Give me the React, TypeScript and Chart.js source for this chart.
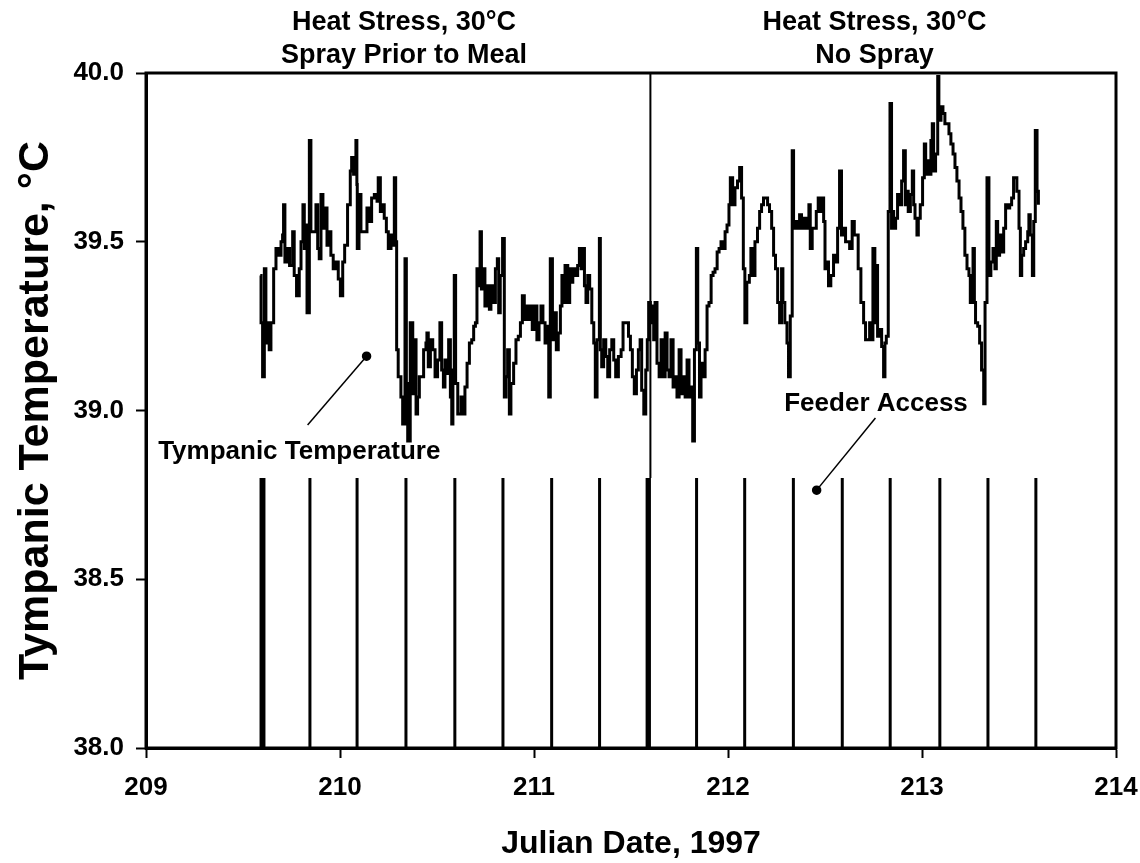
import React, { useEffect, useRef } from "react";
import { Chart, registerables } from "chart.js";

Chart.register(...registerables);

// Tympanic temperature trace (Julian day, °C)
const tympanicDay = [
  209.589, 209.593, 209.601, 209.610, 209.618, 209.630, 209.635, 209.644, 209.658, 209.670,
  209.682, 209.696, 209.704, 209.709, 209.716, 209.730, 209.740, 209.756, 209.764, 209.776,
  209.790, 209.799, 209.809, 209.816, 209.823, 209.830, 209.842, 209.850, 209.864, 209.876,
  209.885, 209.893, 209.902, 209.912, 209.922, 209.933, 209.945, 209.953, 209.965, 209.979,
  209.991, 210.002, 210.014, 210.024, 210.039, 210.053, 210.060, 210.070, 210.082, 210.087,
  210.089, 210.098, 210.108, 210.125, 210.139, 210.151, 210.163, 210.177, 210.191, 210.197,
  210.208, 210.220, 210.228, 210.239, 210.249, 210.263, 210.273, 210.280, 210.287, 210.292,
  210.300, 210.314, 210.323, 210.335, 210.342, 210.349, 210.362,
  210.366, 210.375, 210.383, 210.392, 210.400, 210.409, 210.421, 210.431, 210.443, 210.448,
  210.455, 210.466, 210.478, 210.490, 210.503, 210.515, 210.524, 210.533, 210.541, 210.552,
  210.560, 210.569, 210.576, 210.582, 210.589, 210.596, 210.607, 210.624, 210.637, 210.644,
  210.655, 210.667, 210.679, 210.689, 210.698, 210.706, 210.713, 210.722, 210.729, 210.739,
  210.747, 210.758, 210.770, 210.778, 210.792, 210.801, 210.811, 210.818, 210.826, 210.838,
  210.847, 210.856, 210.864, 210.873, 210.881, 210.895, 210.907, 210.919, 210.930, 210.940,
  210.950, 210.960, 210.971, 210.981, 210.991, 211.002, 211.015, 211.026, 211.036, 211.046,
  211.057, 211.070, 211.076, 211.084, 211.095, 211.105, 211.115, 211.125, 211.136, 211.144,
  211.153, 211.160, 211.174, 211.184, 211.194,
  211.200, 211.212, 211.225, 211.234, 211.243, 211.251, 211.260, 211.268, 211.277, 211.287,
  211.298, 211.308, 211.316, 211.325, 211.337, 211.342, 211.349, 211.359, 211.370, 211.380,
  211.390, 211.401, 211.411, 211.421, 211.435, 211.449, 211.459, 211.473, 211.487, 211.497,
  211.507, 211.517, 211.528, 211.538, 211.547, 211.555, 211.566, 211.576, 211.584, 211.591,
  211.600, 211.607, 211.617, 211.624, 211.634, 211.645, 211.655, 211.665, 211.676, 211.686,
  211.696, 211.706, 211.717, 211.727, 211.737, 211.748, 211.758, 211.768, 211.779, 211.789,
  211.799, 211.810, 211.818, 211.827, 211.837, 211.844, 211.853, 211.861, 211.871, 211.882,
  211.892, 211.902, 211.913, 211.923, 211.933, 211.944, 211.954, 211.964, 211.974, 211.985,
  211.995, 212.005, 212.012,
  212.015, 212.024, 212.036, 212.049, 212.060, 212.070, 212.079, 212.087, 212.097, 212.110,
  212.118, 212.128, 212.139, 212.152, 212.163, 212.173, 212.183, 212.194, 212.204, 212.214,
  212.225, 212.235, 212.245, 212.256, 212.266, 212.276, 212.283, 212.293, 212.304, 212.312,
  212.321, 212.331, 212.338, 212.350, 212.359, 212.369, 212.379, 212.393, 212.403, 212.417,
  212.424, 212.434, 212.445, 212.455, 212.465, 212.475, 212.482, 212.493, 212.500, 212.510,
  212.518, 212.530, 212.544, 212.555, 212.565, 212.575, 212.585, 212.596, 212.606, 212.616,
  212.627, 212.640, 212.651, 212.661, 212.671, 212.685, 212.699, 212.709, 212.719, 212.730,
  212.737, 212.747, 212.757, 212.764, 212.771, 212.781, 212.792, 212.802, 212.809, 212.816,
  212.826, 212.835, 212.843,
  212.845, 212.854, 212.864, 212.874, 212.885, 212.895, 212.905, 212.914, 212.922, 212.929,
  212.940, 212.950, 212.957, 212.964, 212.974, 212.981, 212.991, 213.003, 213.012, 213.019,
  213.026, 213.036, 213.046, 213.053, 213.060, 213.070, 213.081, 213.087, 213.098, 213.108,
  213.118, 213.129, 213.139, 213.149, 213.160, 213.170, 213.180, 213.191, 213.201, 213.211,
  213.221, 213.232, 213.242, 213.249, 213.256, 213.263, 213.270, 213.276, 213.287, 213.297,
  213.307, 213.318, 213.325, 213.335, 213.345, 213.355, 213.366, 213.376, 213.383, 213.390,
  213.400, 213.410, 213.421, 213.431, 213.441, 213.452, 213.462, 213.472, 213.483, 213.489,
  213.500, 213.507, 213.514, 213.524, 213.534, 213.545, 213.551, 213.558, 213.569, 213.576,
  213.584, 213.593, 213.600,
];

const tympanicTemp = [
  39.40, 39.26, 39.10, 39.42, 39.20, 39.26, 39.18, 39.26, 39.42, 39.48,
  39.46, 39.50, 39.52, 39.61, 39.44, 39.48, 39.43, 39.53, 39.40, 39.34,
  39.42, 39.50, 39.61, 39.48, 39.55, 39.29, 39.80, 39.53, 39.53, 39.61,
  39.48, 39.45, 39.64, 39.54, 39.60, 39.49, 39.53, 39.46, 39.42, 39.44,
  39.39, 39.34, 39.44, 39.49, 39.61, 39.71, 39.75, 39.70, 39.80, 39.67,
  39.48, 39.64, 39.53, 39.53, 39.60, 39.56, 39.63, 39.64, 39.62, 39.69,
  39.59, 39.61, 39.57, 39.53, 39.48, 39.52, 39.49, 39.69, 39.50, 39.18,
  39.10, 39.04, 38.96, 39.45, 39.08, 38.91, 39.26,
  39.26, 39.05, 39.21, 38.99, 39.04, 39.10, 39.10, 39.18, 39.20, 39.23,
  39.13, 39.21, 39.18, 39.10, 39.15, 39.26, 39.12, 39.07, 39.15, 39.11,
  39.21, 39.04, 38.96, 39.12, 39.40, 39.08, 38.99, 39.04, 38.99, 39.07,
  39.14, 39.20, 39.21, 39.25, 39.26, 39.42, 39.37, 39.53, 39.36, 39.42,
  39.31, 39.37, 39.30, 39.37, 39.32, 39.42, 39.45, 39.29, 39.40, 39.51,
  39.04, 39.10, 39.18, 38.99, 39.08, 39.14, 39.21, 39.22, 39.26, 39.34,
  39.27, 39.31, 39.27, 39.31, 39.24, 39.31, 39.21, 39.26, 39.31, 39.26,
  39.20, 39.25, 39.04, 39.45, 39.21, 39.29, 39.18, 39.23, 39.31, 39.40,
  39.32, 39.43, 39.32, 39.42, 39.38,
  39.42, 39.40, 39.43, 39.48, 39.42, 39.48, 39.37, 39.32, 39.40, 39.36,
  39.26, 39.20, 39.04, 39.21, 39.51, 39.18, 39.13, 39.21, 39.16, 39.10,
  39.18, 39.21, 39.15, 39.10, 39.16, 39.18, 39.26, 39.26, 39.22, 39.18,
  39.10, 39.05, 39.12, 39.18, 39.21, 39.06, 38.99, 39.12, 39.21, 39.32,
  39.26, 39.31, 39.21, 39.32, 39.14, 39.10, 39.21, 39.10, 39.23, 39.12,
  39.10, 39.21, 39.07, 39.10, 39.04, 39.18, 39.05, 39.10, 39.04, 39.15,
  39.04, 39.07, 38.91, 39.18, 39.48, 39.20, 39.04, 39.14, 39.10, 39.18,
  39.31, 39.32, 39.40, 39.41, 39.42, 39.47, 39.48, 39.50, 39.48, 39.53,
  39.55, 39.61, 39.69,
  39.69, 39.61, 39.66, 39.68, 39.72, 39.63, 39.42, 39.26, 39.38, 39.40,
  39.48, 39.40, 39.50, 39.54, 39.59, 39.61, 39.63, 39.63, 39.61, 39.59,
  39.54, 39.46, 39.42, 39.32, 39.26, 39.42, 39.32, 39.26, 39.20, 39.10,
  39.28, 39.77, 39.54, 39.56, 39.54, 39.58, 39.54, 39.57, 39.54, 39.61,
  39.48, 39.54, 39.54, 39.59, 39.63, 39.59, 39.63, 39.56, 39.42, 39.44,
  39.37, 39.40, 39.46, 39.44, 39.54, 39.71, 39.52, 39.54, 39.50, 39.50,
  39.48, 39.56, 39.52, 39.52, 39.42, 39.32, 39.26, 39.21, 39.21, 39.26,
  39.21, 39.48, 39.26, 39.43, 39.22, 39.24, 39.19, 39.10, 39.20, 39.22,
  39.59, 39.91, 39.54,
  39.59, 39.54, 39.57, 39.64, 39.61, 39.68, 39.77, 39.61, 39.65, 39.59,
  39.64, 39.71, 39.61, 39.57, 39.52, 39.57, 39.61, 39.69, 39.79, 39.70,
  39.74, 39.70, 39.80, 39.85, 39.71, 39.76, 39.99, 39.86, 39.90, 39.88,
  39.85, 39.85, 39.82, 39.79, 39.76, 39.72, 39.68, 39.63, 39.59, 39.54,
  39.46, 39.42, 39.40, 39.32, 39.40, 39.48, 39.32, 39.26, 39.25, 39.20,
  39.12, 39.02, 39.32, 39.69, 39.40, 39.44, 39.48, 39.42, 39.56, 39.46,
  39.52, 39.47, 39.54, 39.61, 39.60, 39.61, 39.63, 39.69, 39.69, 39.65,
  39.54, 39.40, 39.46, 39.48, 39.50, 39.53, 39.58, 39.52, 39.40, 39.56,
  39.83, 39.65, 39.61,
];

// Feeder access events (Julian day); bars drawn from the axis floor to feederTop
const feederDays = [
  209.593, 209.608, 209.845, 210.088, 210.340, 210.592, 210.840, 211.091, 211.338,
  211.583, 211.595, 211.838, 212.086, 212.337, 212.589, 212.836, 213.092, 213.340, 213.587,
];
const feederBase = 38.0;
const feederTop = 38.8;

// Treatment divider
const dividerDay = 211.6;
const dividerRange = [38.8, 40.0];

// Axis ticks
const xTicks = [209, 210, 211, 212, 213, 214];
const yTicks = [38.0, 38.5, 39.0, 39.5, 40.0];

// Panel headings
const panelDays = [210.33, 212.755];
const panelLine1 = ["Heat Stress, 30°C", "Heat Stress, 30°C"];
const panelLine2 = ["Spray Prior to Meal", "No Spray"];

const FONT = '"Liberation Sans", Arial, Helvetica, sans-serif';

const annotPlugin = {
  id: "annot",
  afterDraw(chart: any) {
    const { ctx, chartArea, scales } = chart;
    const x = scales.x;
    const y = scales.y;
    ctx.save();
    ctx.strokeStyle = "#000";
    ctx.lineWidth = 3;
    ctx.strokeRect(
      chartArea.left,
      chartArea.top,
      chartArea.right - chartArea.left,
      chartArea.bottom - chartArea.top
    );
    ctx.fillStyle = "#000";
    ctx.textAlign = "center";
    ctx.textBaseline = "middle";
    ctx.font = `bold 27px ${FONT}`;
    panelDays.forEach((d, i) => {
      const px = x.getPixelForValue(d);
      ctx.fillText(panelLine1[i], px, chartArea.top - 50);
      ctx.fillText(panelLine2[i], px, chartArea.top - 17);
    });
    ctx.font = `bold 26px ${FONT}`;
    ctx.fillText("Tympanic Temperature", x.getPixelForValue(209.79), y.getPixelForValue(38.877));
    ctx.fillText("Feeder Access", x.getPixelForValue(212.763), y.getPixelForValue(39.019));
    ctx.restore();
  },
};

export default function App() {
  const ref = useRef<HTMLCanvasElement | null>(null);

  useEffect(() => {
    if (!ref.current) return;
    const trace = tympanicDay.map((d, i) => ({ x: d, y: tympanicTemp[i] }));
    const feeder: any[] = [];
    feederDays.forEach((d) => {
      feeder.push({ x: d, y: feederBase });
      feeder.push({ x: d, y: feederTop });
      feeder.push({ x: d, y: null });
    });
    const divider = [
      { x: dividerDay, y: dividerRange[0] },
      { x: dividerDay, y: dividerRange[1] },
    ];
    const tympPointer = [
      { x: 209.833, y: 38.957 },
      { x: 210.137, y: 39.161 },
    ];
    const feederPointer = [
      { x: 212.76, y: 38.978 },
      { x: 212.457, y: 38.764 },
    ];

    const chart = new Chart(ref.current, {
      type: "line",
      data: {
        datasets: [
          {
            label: "Tympanic Temperature",
            data: trace,
            borderColor: "#000",
            borderWidth: 3,
            pointRadius: 0,
            stepped: "before",
          },
          {
            label: "Feeder Access",
            data: feeder,
            borderColor: "#000",
            borderWidth: 3,
            pointRadius: 0,
            spanGaps: false,
          },
          {
            label: "Divider",
            data: divider,
            borderColor: "#000",
            borderWidth: 2,
            pointRadius: 0,
          },
          {
            label: "ptr1",
            data: tympPointer,
            borderColor: "#000",
            borderWidth: 1.5,
            pointRadius: [0, 4],
            pointBackgroundColor: "#000",
            pointBorderColor: "#000",
          },
          {
            label: "ptr2",
            data: feederPointer,
            borderColor: "#000",
            borderWidth: 1.5,
            pointRadius: [0, 4],
            pointBackgroundColor: "#000",
            pointBorderColor: "#000",
          },
        ],
      },
      options: {
        animation: false,
        responsive: false,
        devicePixelRatio: 1,
        layout: { padding: { top: 73, right: 24, left: 0, bottom: 0 } },
        plugins: { legend: { display: false }, tooltip: { enabled: false } },
        scales: {
          x: {
            type: "linear",
            min: 209,
            max: 214,
            afterFit: (s: any) => {
              s.height = 115;
              s.paddingLeft = 0;
              s.paddingRight = 0;
            },
            afterBuildTicks: (s: any) => {
              s.ticks = xTicks.map((v) => ({ value: v }));
            },
            ticks: {
              color: "#000",
              padding: 14,
              font: { family: FONT, size: 26, weight: "bold" },
              callback: (v: any) => String(v),
              maxRotation: 0,
            },
            grid: {
              drawOnChartArea: false,
              drawTicks: true,
              tickLength: 10,
              tickWidth: 2,
              tickColor: "#000",
            },
            border: { display: true, color: "#000", width: 3 },
            title: {
              display: true,
              text: "Julian Date, 1997",
              color: "#000",
              font: { family: FONT, size: 32, weight: "bold" },
              padding: { top: 0, bottom: 0 },
            },
          },
          y: {
            type: "linear",
            min: 38,
            max: 40,
            afterFit: (s: any) => {
              s.width = 146;
              s.paddingTop = 0;
              s.paddingBottom = 0;
            },
            afterBuildTicks: (s: any) => {
              s.ticks = yTicks.map((v) => ({ value: v }));
            },
            ticks: {
              color: "#000",
              padding: 12,
              font: { family: FONT, size: 26, weight: "bold" },
              callback: (v: any) => Number(v).toFixed(1),
            },
            grid: {
              drawOnChartArea: false,
              drawTicks: true,
              tickLength: 10,
              tickWidth: 2,
              tickColor: "#000",
            },
            border: { display: true, color: "#000", width: 3 },
            title: {
              display: true,
              text: "Tympanic Temperature, °C",
              color: "#000",
              font: { family: FONT, size: 43, weight: "bold" },
              padding: { top: 10, bottom: 0 },
            },
          },
        },
      },
      plugins: [annotPlugin],
    });
    return () => chart.destroy();
  }, []);

  return (
    <div style={{ position: "absolute", left: 0, top: 0, width: 1140, height: 863, background: "#fff" }}>
      <canvas ref={ref} width={1140} height={863} />
    </div>
  );
}
